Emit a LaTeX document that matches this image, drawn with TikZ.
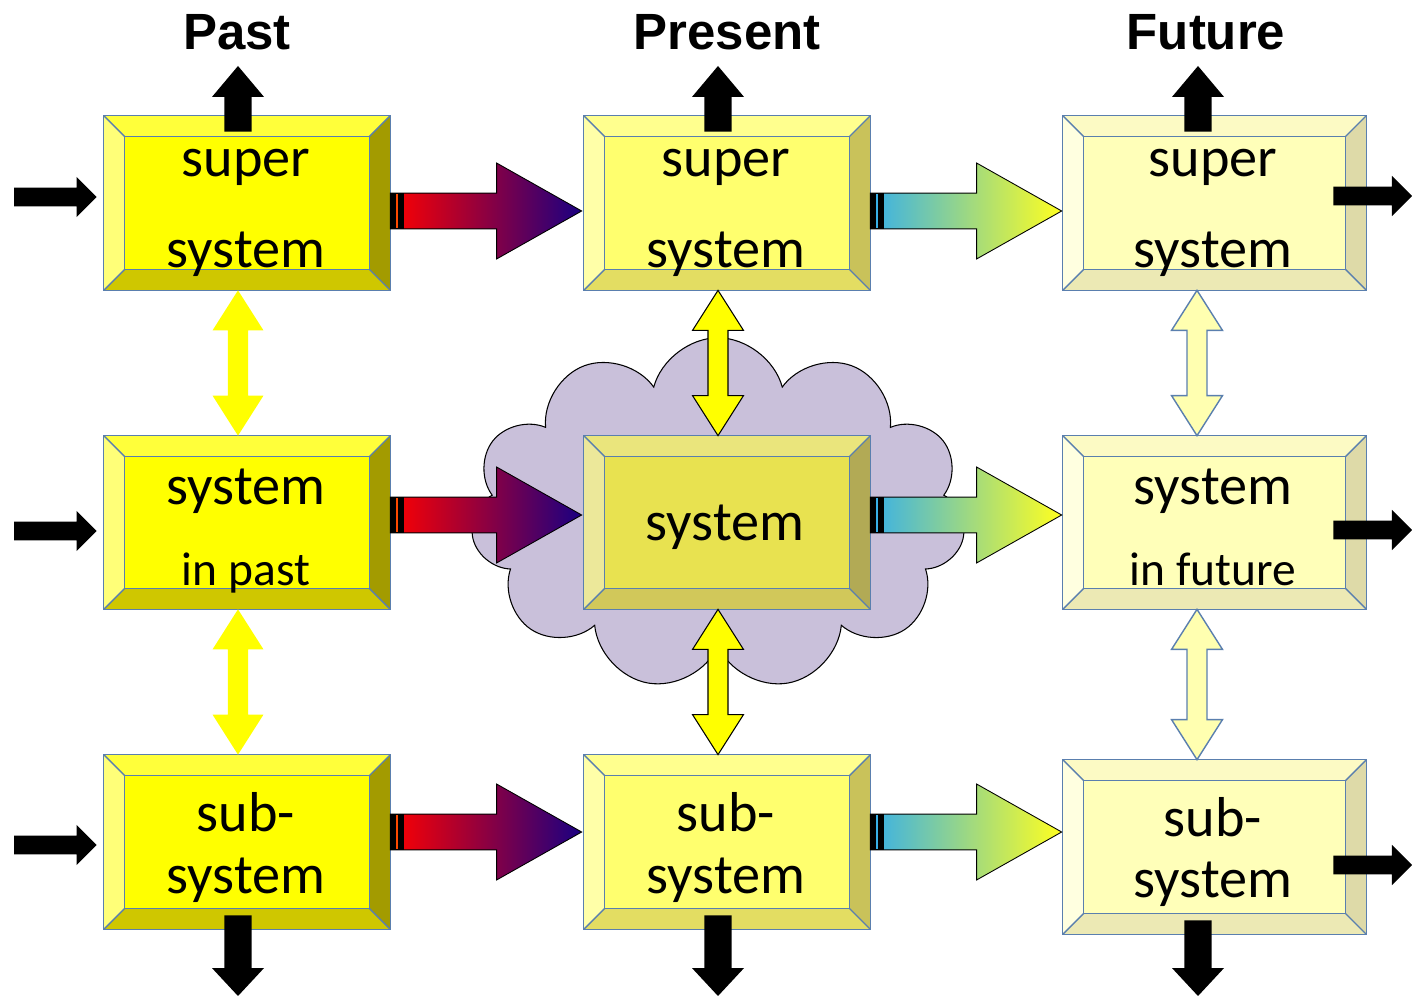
\documentclass[tikz,border=0pt]{standalone}
\usepackage{fontspec}
\setmainfont{Carlito}
\newfontfamily\titlefont{Liberation Sans}
\usetikzlibrary{shapes.symbols,calc}

% bevel colour sets: face, top, left, right, bottom
\definecolor{caface}{HTML}{FFFF00}\definecolor{catop}{HTML}{FFFF3A}\definecolor{caleft}{HTML}{FFFF78}
\definecolor{caright}{HTML}{A39B00}\definecolor{cabottom}{HTML}{CFC700}
\definecolor{cbface}{HTML}{FFFF6E}\definecolor{cbtop}{HTML}{FFFF8E}\definecolor{cbleft}{HTML}{FFFFA8}
\definecolor{cbright}{HTML}{C9C25A}\definecolor{cbbottom}{HTML}{E3DD62}
\definecolor{ccface}{HTML}{E8E250}\definecolor{cctop}{HTML}{EAE57C}\definecolor{ccleft}{HTML}{ECE89A}
\definecolor{ccright}{HTML}{B2AA55}\definecolor{ccbottom}{HTML}{D1C85A}
\definecolor{cdface}{HTML}{FFFFB9}\definecolor{cdtop}{HTML}{FCFAC4}\definecolor{cdleft}{HTML}{FFFFE0}
\definecolor{cdright}{HTML}{DEDAA8}\definecolor{cdbottom}{HTML}{ECE9B4}
\definecolor{edge}{HTML}{5A7FAE}
\definecolor{cloudfill}{HTML}{C9C0DA}
\definecolor{paleyellow}{HTML}{FFFFB0}
\definecolor{warmA}{HTML}{FF0000}\definecolor{warmB}{HTML}{A8007C}\definecolor{warmC}{HTML}{1A0082}
\definecolor{coolA}{HTML}{38B0E8}\definecolor{coolB}{HTML}{C4DCCC}\definecolor{coolC}{HTML}{FFFF20}
\definecolor{warmstripe}{HTML}{FF4A00}

\tikzset{
  boxnode/.style={rectangle, draw=none, inner sep=0pt, minimum height=3.48cm},
  bevline/.style={draw=edge, line width=0.8pt},
  lbl/.style={font=\fontsize{32}{34}\selectfont, inner sep=0pt, anchor=base},
  lblsmall/.style={font=\fontsize{27}{29}\selectfont, inner sep=0pt, anchor=base},
  ttl/.style={font=\titlefont\bfseries\fontsize{29}{30}\selectfont, inner sep=0pt, anchor=base},
  dblplain/.style={fill=caface, draw=none},
  dblblack/.style={fill=caface, draw=black, line width=0.6pt},
  dblpale/.style={fill=paleyellow, draw=edge, line width=0.8pt},
}

% bevelled block: #1 node name, #2 colour set prefix
\newcommand\bevbox[2]{%
  \fill[#2face] (#1.north west) rectangle (#1.south east);
  \fill[#2top] (#1.north west) -- (#1.north east) -- ([shift={(-21,21)}]#1.north east) -- ([shift={(21,21)}]#1.north west) -- cycle;
  \fill[#2left] (#1.north west) -- ([shift={(21,21)}]#1.north west) -- ([shift={(21,-21)}]#1.south west) -- (#1.south west) -- cycle;
  \fill[#2right] (#1.north east) -- ([shift={(-21,21)}]#1.north east) -- ([shift={(-21,-21)}]#1.south east) -- (#1.south east) -- cycle;
  \fill[#2bottom] (#1.south west) -- ([shift={(21,-21)}]#1.south west) -- ([shift={(-21,-21)}]#1.south east) -- (#1.south east) -- cycle;
  \draw[bevline] (#1.north west) rectangle (#1.south east);
  \draw[bevline] ([shift={(21,21)}]#1.north west) rectangle ([shift={(-21,-21)}]#1.south east);
  \draw[bevline] (#1.north west) -- ([shift={(21,21)}]#1.north west);
  \draw[bevline] (#1.north east) -- ([shift={(-21,21)}]#1.north east);
  \draw[bevline] (#1.south west) -- ([shift={(21,-21)}]#1.south west);
  \draw[bevline] (#1.south east) -- ([shift={(-21,-21)}]#1.south east);
}

% shaded block arrow: #1 start, #2 tip, #3/#4/#5 colours, #6 stripe colour
\newcommand\garrow[6]{%
  \shadedraw[left color=#3, middle color=#4, right color=#5, draw=black, line width=0.5pt]
    let \p1=#1, \p2=#2 in
    (\x1,\y1+10.2pt) -- (\x2-48.4pt,\y1+10.2pt) -- (\x2-48.4pt,\y1+27.3pt) -- (\x2,\y1)
    -- (\x2-48.4pt,\y1-27.3pt) -- (\x2-48.4pt,\y1-10.2pt) -- (\x1,\y1-10.2pt) -- cycle;
  \fill[black] let \p1=#1 in (\x1,\y1-10.2pt) rectangle (\x1+8pt,\y1+10.2pt);
  \fill[#6] let \p1=#1 in (\x1+3.4pt,\y1-9.4pt) rectangle (\x1+4.6pt,\y1+9.4pt);
}

% black block arrows
\newcommand\blkh[2]{%
  \fill[black] let \p1=#1, \p2=#2 in
    (\x1,\y1+5.4pt) -- (\x2-11.4pt,\y1+5.4pt) -- (\x2-11.4pt,\y1+11.4pt) -- (\x2,\y1)
    -- (\x2-11.4pt,\y1-11.4pt) -- (\x2-11.4pt,\y1-5.4pt) -- (\x1,\y1-5.4pt) -- cycle;
}
\newcommand\blkup[2]{%
  \fill[black] let \p1=#1, \p2=#2 in
    (\x1-7.7pt,\y1) -- (\x1-7.7pt,\y2-17.6pt) -- (\x1-14.8pt,\y2-17.6pt) -- (\x1,\y2)
    -- (\x1+14.8pt,\y2-17.6pt) -- (\x1+7.7pt,\y2-17.6pt) -- (\x1+7.7pt,\y1) -- cycle;
}
\newcommand\blkdown[2]{%
  \fill[black] let \p1=#1, \p2=#2 in
    (\x1-7.7pt,\y1) -- (\x1-7.7pt,\y2+15.9pt) -- (\x1-14.8pt,\y2+15.9pt) -- (\x1,\y2)
    -- (\x1+14.8pt,\y2+15.9pt) -- (\x1+7.7pt,\y2+15.9pt) -- (\x1+7.7pt,\y1) -- cycle;
}
% two-headed vertical block arrow: #1 style, #2 upper tip, #3 lower tip
\newcommand\dblv[3]{%
  \path[#1] let \p1=#2, \p2=#3 in
    (\x1,\y1) -- (\x1+14.5pt,\y1-22.8pt) -- (\x1+5.7pt,\y1-22.8pt) -- (\x1+5.7pt,\y2+22.8pt)
    -- (\x1+14.5pt,\y2+22.8pt) -- (\x1,\y2) -- (\x1-14.5pt,\y2+22.8pt) -- (\x1-5.7pt,\y2+22.8pt)
    -- (\x1-5.7pt,\y1-22.8pt) -- (\x1-14.5pt,\y1-22.8pt) -- cycle;
}

\begin{document}
\begin{tikzpicture}[x=0.02cm, y=-0.02cm]
\useasboundingbox (0,0) rectangle (1412,996);

% cloud behind the present system
\node[cloud, cloud puffs=11, aspect=1.4, minimum width=9.9cm, minimum height=7.05cm,
      fill=cloudfill, draw=black, line width=0.6pt, inner sep=0pt] (cl) at (718,514) {};

% blocks
\node[boxnode, minimum width=5.72cm] (p1) at (247,203) {};
\node[boxnode, minimum width=5.72cm, minimum height=3.46cm] (m1) at (247,522.5) {};
\node[boxnode, minimum width=5.72cm] (s1) at (247,842) {};
\node[boxnode, minimum width=5.72cm] (p2) at (727,203) {};
\node[boxnode, minimum width=5.72cm, minimum height=3.46cm] (m2) at (727,522.5) {};
\node[boxnode, minimum width=5.72cm] (s2) at (727,842) {};
\node[boxnode, minimum width=6.06cm] (p3) at (1214.5,203) {};
\node[boxnode, minimum width=6.06cm, minimum height=3.46cm] (m3) at (1214.5,522.5) {};
\node[boxnode, minimum width=6.06cm] (s3) at (1214.5,847) {};

\bevbox{p1}{ca}\bevbox{m1}{ca}\bevbox{s1}{ca}
\bevbox{p2}{cb}\bevbox{m2}{cc}\bevbox{s2}{cb}
\bevbox{p3}{cd}\bevbox{m3}{cd}\bevbox{s3}{cd}

% free ends of the black arrows
\coordinate (in1) at (14,197);  \coordinate (in2) at (14,531);  \coordinate (in3) at (14,845);
\coordinate (out1) at (1412,196); \coordinate (out2) at (1412,530); \coordinate (out3) at (1412,865);
\coordinate (up1) at (238,66);  \coordinate (up2) at (718,66);  \coordinate (up3) at (1198,66);
\coordinate (dn1) at (238,996); \coordinate (dn2) at (718,996); \coordinate (dn3) at (1198,996);

% inputs on the left
\blkh{(in1)}{([shift={(-7,0)}]p1.west)}
\blkh{(in2)}{([shift={(-7,0)}]m1.west)}
\blkh{(in3)}{([shift={(-7,0)}]s1.west)}
% outputs on the right
\blkh{([shift={(-33,-7)}]p3.east)}{(out1)}
\blkh{([shift={(-33,7.5)}]m3.east)}{(out2)}
\blkh{([shift={(-33,18)}]s3.east)}{(out3)}
% outputs upwards and downwards
\blkup{([shift={(-9,16)}]p1.north)}{(up1)}
\blkup{([shift={(-9,16)}]p2.north)}{(up2)}
\blkup{([shift={(-16.5,16)}]p3.north)}{(up3)}
\blkdown{([shift={(-9,-14)}]s1.south)}{(dn1)}
\blkdown{([shift={(-9,-14)}]s2.south)}{(dn2)}
\blkdown{([shift={(-16.5,-14)}]s3.south)}{(dn3)}

% links between levels
\dblv{dblplain}{([shift={(-9,0)}]p1.south)}{([shift={(-9,0)}]m1.north)}
\dblv{dblplain}{([shift={(-9,0)}]m1.south)}{([shift={(-9,0)}]s1.north)}
\dblv{dblblack}{([shift={(-9,0)}]p2.south)}{([shift={(-9,0)}]m2.north)}
\dblv{dblblack}{([shift={(-9,0)}]m2.south)}{([shift={(-9,0)}]s2.north)}
\dblv{dblpale}{([shift={(-17.5,0)}]p3.south)}{([shift={(-17.5,0)}]m3.north)}
\dblv{dblpale}{([shift={(-17.5,0)}]m3.south)}{([shift={(-17.5,0)}]s3.north)}

% transitions in time
\garrow{([shift={(0,8)}]p1.east)}{([shift={(-2,8)}]p2.west)}{warmA}{warmB}{warmC}{warmstripe}
\garrow{([shift={(0,-7.5)}]m1.east)}{([shift={(-2,-7.5)}]m2.west)}{warmA}{warmB}{warmC}{warmstripe}
\garrow{([shift={(0,-10)}]s1.east)}{([shift={(-2,-10)}]s2.west)}{warmA}{warmB}{warmC}{warmstripe}
\garrow{([shift={(0,8)}]p2.east)}{([shift={(-1,8)}]p3.west)}{coolA}{coolB}{coolC}{coolA}
\garrow{([shift={(0,-7.5)}]m2.east)}{([shift={(-1,-7.5)}]m3.west)}{coolA}{coolB}{coolC}{coolA}
\garrow{([shift={(0,-10)}]s2.east)}{([shift={(-1,-15)}]s3.west)}{coolA}{coolB}{coolC}{coolA}

% column titles
\node[ttl] (tpast) at (237,50) {Past};
\node[ttl] (tpresent) at (727,50) {Present};
\node[ttl] (tfuture) at (1206,50) {Future};

% block labels
\node[lbl] (p1a) at (246,177) {super};
\node[lbl] (p1b) at (246,268) {system};
\node[lbl] (m1a) at (246,504) {system};
\node[lblsmall] (m1b) at (246,585) {in past};
\node[lbl] (s1a) at (246,831) {sub-};
\node[lbl] (s1b) at (246,893) {system};

\node[lbl] (p2a) at (726,177) {super};
\node[lbl] (p2b) at (726,268) {system};
\node[lbl] (m2a) at (725,540) {system};
\node[lbl] (s2a) at (726,831) {sub-};
\node[lbl] (s2b) at (726,893) {system};

\node[lbl] (p3a) at (1213,177) {super};
\node[lbl] (p3b) at (1213,268) {system};
\node[lbl] (m3a) at (1213,504) {system};
\node[lblsmall] (m3b) at (1213,585) {in future};
\node[lbl] (s3a) at (1213,836) {sub-};
\node[lbl] (s3b) at (1213,897) {system};
\end{tikzpicture}
\end{document}
